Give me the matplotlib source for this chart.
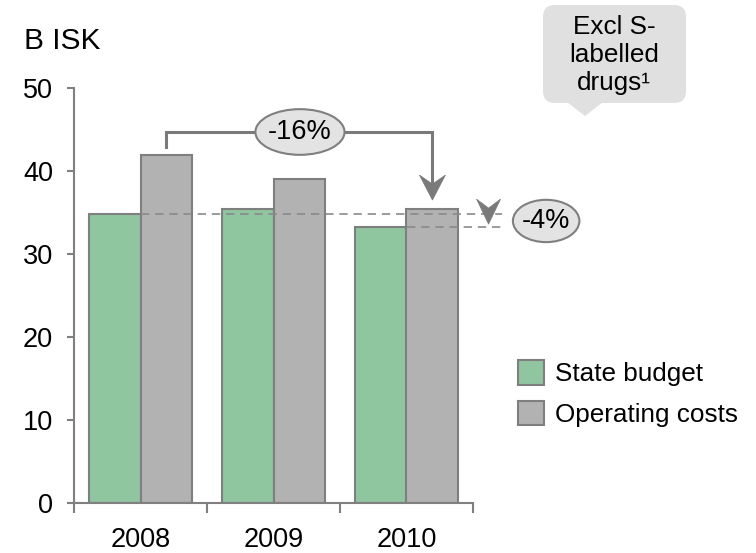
import matplotlib
matplotlib.use("Agg")
import matplotlib.pyplot as plt
import numpy as np
from matplotlib.patches import Ellipse, Polygon, FancyBboxPatch, Patch
from matplotlib.transforms import ScaledTranslation

plt.rcParams['font.family'] = ['Liberation Sans', 'DejaVu Sans']

years = ["2008", "2009", "2010"]
state_budget = [34.8, 35.4, 33.3]
operating_costs = [41.9, 39.0, 35.4]
yticks = [0, 10, 20, 30, 40, 50]

GREEN = "#8fc59f"
GRAY = "#b2b2b2"
EDGE = "#7f7f7f"
AXIS = "#808080"
FS_TICK = 19.5
FS_LEG = 18.8

fig = plt.figure(figsize=(7.56, 5.53), dpi=100)
ax = fig.add_axes([74 / 756, 50 / 553, (473 - 74) / 756, (503 - 88) / 553])

x = np.arange(len(years))
w = 0.39
ax.bar(x - w / 2, state_budget, w, color=GREEN, edgecolor=EDGE, linewidth=1.5, zorder=2)
ax.bar(x + w / 2, operating_costs, w, color=GRAY, edgecolor=EDGE, linewidth=1.5, zorder=2)

ax.set_xlim(-0.5, 2.5)
ax.set_ylim(0, 50)
ax.set_yticks(yticks)
ax.set_yticklabels([str(v) for v in yticks], fontsize=FS_TICK)
ax.set_xticks(x)
ax.set_xticklabels(years, fontsize=FS_TICK)
ax.set_xticks([-0.5, 0.5, 1.5, 2.5], minor=True)
ax.tick_params(axis='x', which='major', length=0, pad=17.5)
ax.tick_params(axis='x', which='minor', length=7, width=1.5, color=AXIS)
ax.tick_params(axis='y', length=5, width=1.5, color=AXIS, pad=10)
for s in ["top", "right"]:
    ax.spines[s].set_visible(False)
for s in ["left", "bottom"]:
    ax.spines[s].set_color(AXIS)
    ax.spines[s].set_linewidth(1.5)

# reference dashed lines for the state budget change
dash = dict(color="#8a8a8a", linestyle=(0, (5, 3.5)), linewidth=1.2, zorder=3, clip_on=False)
ax.plot([0.0, 2.72], [state_budget[0], state_budget[0]], **dash)
ax.plot([2.0, 2.72], [state_budget[2], state_budget[2]], **dash)

# bracket from 2008 to 2010 operating costs
gx0 = x[0] + w / 2
gx2 = x[2] + w / 2
top = 44.7
ax.plot([gx0, gx0, gx2, gx2], [operating_costs[0] + 1.0, top, top, operating_costs[2] + 3.0],
        color="#7a7a7a", linewidth=2.2, zorder=4, solid_joinstyle='miter', clip_on=False)


def chevron(xd, yd, half_w, length, notch, color):
    tr = fig.dpi_scale_trans + ScaledTranslation(xd, yd, ax.transData)
    pts = np.array([[0, 0], [-half_w, length], [0, notch], [half_w, length]]) / 100.0
    ax.add_patch(Polygon(pts, closed=True, transform=tr, facecolor=color,
                         edgecolor=color, linewidth=0.5, zorder=5, clip_on=False))


chevron(gx2, operating_costs[2] + 1.1, 13, 25, 16, "#7a7a7a")
chevron(2.617, 33.6, 12, 25, 16, "#7a7a7a")


def bubble(xc, yc, wd, ht, text):
    ax.add_patch(Ellipse((xc, yc), wd, ht, facecolor="#e3e3e3", edgecolor="#7f7f7f",
                         linewidth=1.5, zorder=6, clip_on=False))
    ax.text(xc, yc, text, ha="center", va="center", fontsize=FS_TICK, zorder=7)


bubble(1.199, 44.7, 0.67, 5.5, "-16%")
bubble(3.05, 33.98, 0.50, 5.1, "-4%")

# legend
handles = [Patch(facecolor=GREEN, edgecolor=EDGE, linewidth=1.5, label="State budget"),
           Patch(facecolor=GRAY, edgecolor=EDGE, linewidth=1.5, label="Operating costs")]
fig.legend(handles=handles, loc="upper left", bbox_to_anchor=(518 / 756, 1 - 360 / 553),
           frameon=False, fontsize=FS_LEG, handlelength=1.0, handleheight=1.08,
           handletextpad=0.42, labelspacing=0.55, borderpad=0, borderaxespad=0)

# overlay for unit label and callout
ov = fig.add_axes([0, 0, 1, 1], facecolor="none")
ov.set_xlim(0, 756)
ov.set_ylim(553, 0)
ov.axis("off")
ov.text(24, 41, "B ISK", fontsize=21.5, ha="left", va="center")
ov.add_patch(FancyBboxPatch((543 + 12, 5 + 12), 143 - 24, 98 - 24,
                            boxstyle="round,pad=12", facecolor="#e0e0e0", edgecolor="none"))
ov.add_patch(Polygon([[567, 102], [603, 102], [585, 116]], closed=True,
                     facecolor="#e0e0e0", edgecolor="none"))
ov.text(614, 55, "Excl S-\nlabelled\ndrugs\u00b9", fontsize=FS_LEG, ha="center", va="center",
        linespacing=1.2)

fig.savefig("out.png", dpi=100)
